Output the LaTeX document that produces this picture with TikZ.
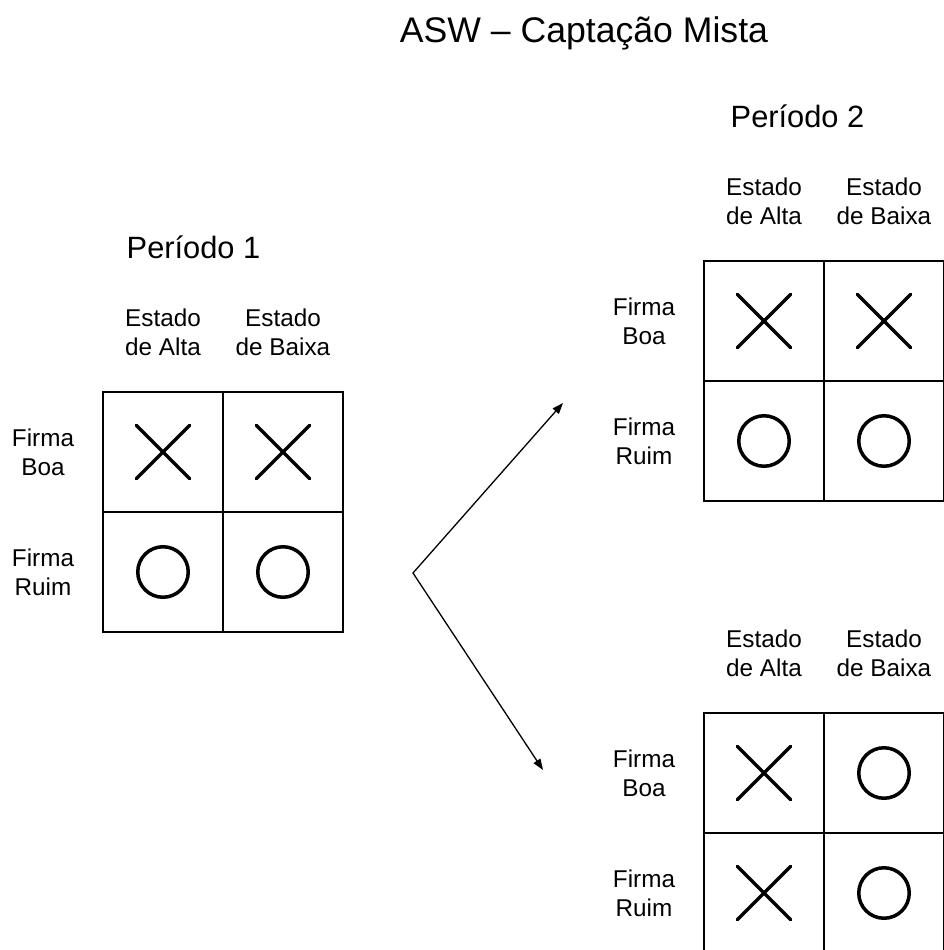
\documentclass[tikz,border=0pt]{standalone}
\usepackage{fontspec}
\setmainfont{Liberation Sans}
\usetikzlibrary{shapes.misc,arrows.meta}

% one 2x2 table: #1 name prefix, #2 left edge, #3 top edge
\newcommand{\grade}[3]{%
  \node[cell] (#1-11) at (#2+60,#3+60)  {};
  \node[cell] (#1-12) at (#2+180,#3+60) {};
  \node[cell] (#1-21) at (#2+60,#3+180) {};
  \node[cell] (#1-22) at (#2+180,#3+180) {};
  \node[lbl] (#1-alta)  at (#2+60,#3-60)  {Estado\\de Alta};
  \node[lbl] (#1-baixa) at (#2+180,#3-60) {Estado\\de Baixa};
  \node[lbl] (#1-boa)   at (#2-60,#3+60)  {Firma\\Boa};
  \node[lbl] (#1-ruim)  at (#2-60,#3+180) {Firma\\Ruim};
}

\begin{document}
\begin{tikzpicture}[x=1pt,y=-1pt,
  cell/.style={draw, line width=1.3pt, minimum width=120pt, minimum height=120pt,
               inner sep=0pt, outer sep=0pt},
  xsym/.style={cross out, draw, line width=3.5pt, line cap=round, minimum size=50pt,
               inner sep=0pt},
  osym/.style={circle, draw, line width=3.5pt, minimum size=50.5pt, inner sep=0pt},
  lbl/.style={font=\fontsize{24.3}{29}\selectfont, align=center, inner sep=0pt},
  heading/.style={font=\fontsize{30.8}{36}\selectfont, inner sep=0pt, anchor=base},
  branch/.style={line width=1.3pt, {Triangle[length=11pt,width=8pt]}-{Triangle[length=11pt,width=8pt]}}
]
\path[use as bounding box] (0,0) rectangle (944,950);
\clip (0,0) rectangle (944,950);

% titles
\node[heading, font=\fontsize{35.6}{42}\selectfont] (title) at (584,43) {ASW – Captação Mista};
\node[heading] (p1) at (193.5,258) {Período 1};
\node[heading] (p2) at (797.5,127) {Período 2};

% period 1
\grade{a}{103}{392}
\node[xsym] (a-11s) at (a-11) {};
\node[xsym] (a-12s) at (a-12) {};
\node[osym] (a-21s) at (a-21) {};
\node[osym] (a-22s) at (a-22) {};

% period 2, upper branch
\grade{b}{704}{261}
\node[xsym] (b-11s) at (b-11) {};
\node[xsym] (b-12s) at (b-12) {};
\node[osym] (b-21s) at (b-21) {};
\node[osym] (b-22s) at (b-22) {};

% period 2, lower branch
\grade{c}{704}{713}
\node[xsym] (c-11s) at (c-11) {};
\node[osym] (c-12s) at (c-12) {};
\node[xsym] (c-21s) at (c-21) {};
\node[osym] (c-22s) at (c-22) {};

% branching arrows
\coordinate (fork) at (413,573);
\coordinate (upTip) at (563,403);
\coordinate (downTip) at (543,770);
\draw[branch] (upTip) -- (fork) -- (downTip);
\end{tikzpicture}
\end{document}
